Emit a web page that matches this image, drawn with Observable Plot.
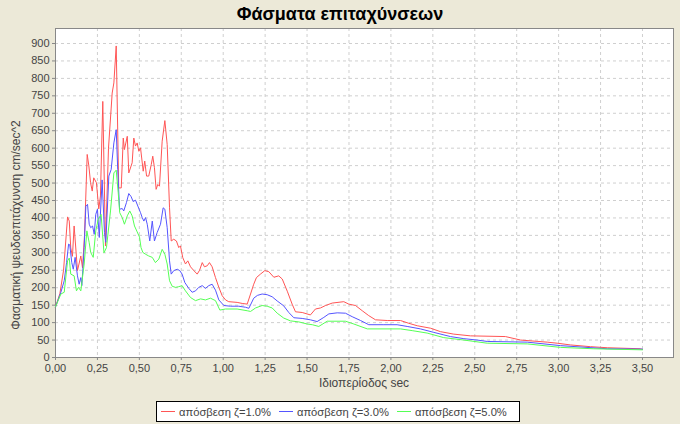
<!DOCTYPE html>
<html><head><meta charset="utf-8">
<script src="https://cdn.jsdelivr.net/npm/d3@7"></script>
<script src="https://cdn.jsdelivr.net/npm/@observablehq/plot@0.6"></script>
<style>
body{margin:0;background:#ECE9D8;}
#wrap{position:relative;width:680px;height:424px;background:#ECE9D8;font-family:"Liberation Sans",Arial,sans-serif;overflow:hidden}
#title{position:absolute;left:0;top:2px;width:680px;text-align:center;font-weight:bold;font-size:18px;line-height:24px;color:#000}
#chart{position:absolute;left:0;top:0}
#xlabel{position:absolute;left:55px;width:618px;top:376px;text-align:center;font-size:12px;color:#444}
#ylabel{position:absolute;left:16px;top:225px;transform:translate(-50%,-50%) rotate(-90deg);white-space:nowrap;font-size:12px;color:#444}
#legend{position:absolute;left:156px;top:401px;width:362px;height:19px;border:1px solid #000;background:#fff;font-size:11.2px;color:#444;display:flex;align-items:center;white-space:nowrap}
.item{display:flex;align-items:center;margin-left:4px;margin-right:4px;white-space:nowrap}
.sw{display:inline-block;width:14px;height:0;border-top:1px solid;margin-right:4px}
</style></head>
<body>
<div id="wrap">
  <div id="title">Φάσματα επιταχύνσεων</div>
  <div id="chart"></div>
  <div id="xlabel">Ιδιοπερίοδος sec</div>
  <div id="ylabel">Φασματική ψευδοεπιτάχυνση cm/sec^2</div>
  <div id="legend"></div>
</div>
<script>
// Series names and colours
const seriesNames = ["απόσβεση ζ=1.0%", "απόσβεση ζ=3.0%", "απόσβεση ζ=5.0%"];
const seriesColors = ["#FF5555", "#5555FF", "#55FF55"];

// ζ = 1.0 %
const T1 = [0,0.026,0.048,0.072,0.082,0.091,0.101,0.111,0.131,0.151,0.161,0.173,0.189,0.199,0.209,0.219,0.228,0.244,0.258,0.268,0.282,0.298,0.316,0.332,0.338,0.348,0.362,0.377,0.392,0.404,0.411,0.428,0.437,0.457,0.467,0.477,0.487,0.497,0.507,0.523,0.532,0.543,0.556,0.571,0.580,0.590,0.600,0.610,0.620,0.636,0.652,0.666,0.680,0.690,0.705,0.721,0.735,0.745,0.759,0.775,0.789,0.805,0.825,0.845,0.859,0.875,0.888,0.905,0.918,0.934,0.954,0.974,0.994,1.014,1.033,1.083,1.113,1.143,1.163,1.182,1.198,1.222,1.248,1.272,1.302,1.331,1.352,1.382,1.411,1.431,1.471,1.520,1.550,1.580,1.610,1.650,1.719,1.749,1.789,1.829,1.868,1.908,1.978,2.057,2.107,2.157,2.236,2.296,2.375,2.475,2.683,2.773,2.932,2.991,3.071,3.190,3.290,3.489,3.500];
const A1 = [145,183,250,403,391,314,290,377,249,291,257,350,582,549,501,477,515,501,426,463,734,320,600,715,758,787,893,486,486,629,596,634,529,558,629,606,615,591,601,534,563,520,520,553,577,544,482,496,491,620,679,610,429,334,339,334,315,320,286,268,277,260,249,239,250,272,260,263,272,260,229,201,177,165,160,158,155,153,182,210,229,239,249,246,230,234,225,190,153,131,129,122,139,142,149,156,160,153,149,134,120,108,106,106,98,91,84,74,67,62,60,50,44,41,36,31,28,25,23];

// ζ = 3.0 %
const T3 = [0,0.032,0.052,0.066,0.078,0.085,0.097,0.106,0.117,0.131,0.141,0.151,0.157,0.171,0.181,0.191,0.201,0.210,0.221,0.231,0.240,0.250,0.261,0.278,0.292,0.300,0.318,0.332,0.348,0.362,0.371,0.382,0.398,0.407,0.423,0.437,0.451,0.463,0.477,0.491,0.507,0.517,0.527,0.537,0.547,0.562,0.577,0.590,0.606,0.626,0.642,0.652,0.666,0.680,0.690,0.705,0.726,0.741,0.755,0.771,0.795,0.815,0.835,0.854,0.875,0.894,0.914,0.934,0.954,0.974,1.004,1.043,1.093,1.133,1.153,1.182,1.204,1.232,1.262,1.292,1.322,1.361,1.391,1.421,1.471,1.520,1.560,1.600,1.630,1.680,1.729,1.769,1.819,1.868,1.958,2.037,2.097,2.176,2.256,2.355,2.435,2.514,2.574,2.813,3.011,3.290,3.500];
const A3 = [145,187,220,272,325,323,272,253,287,234,210,229,206,315,434,439,382,372,377,353,410,425,344,509,358,330,520,539,615,653,539,425,427,420,444,470,461,447,451,434,415,401,391,401,382,334,391,334,358,382,429,425,372,277,239,249,253,249,239,215,198,187,191,201,206,198,206,210,193,165,149,147,147,144,141,170,178,182,180,174,162,148,129,114,112,108,103,115,125,128,127,117,106,94,94,94,89,82,72,60,54,50,46,44,34,25,24];

// ζ = 5.0 %
const T5 = [0,0.032,0.052,0.072,0.082,0.091,0.111,0.125,0.137,0.151,0.171,0.187,0.201,0.210,0.225,0.240,0.255,0.272,0.289,0.304,0.328,0.348,0.362,0.374,0.383,0.398,0.411,0.428,0.443,0.457,0.471,0.487,0.501,0.510,0.521,0.537,0.556,0.577,0.596,0.616,0.636,0.652,0.666,0.680,0.696,0.716,0.735,0.755,0.775,0.805,0.835,0.865,0.894,0.924,0.954,0.980,1.014,1.083,1.143,1.163,1.193,1.232,1.262,1.292,1.322,1.361,1.401,1.451,1.501,1.531,1.570,1.620,1.729,1.779,1.859,2.057,2.127,2.216,2.315,2.435,2.574,2.813,3.011,3.210,3.500];
const A5 = [145,182,187,277,285,239,234,191,201,191,268,363,329,301,287,363,396,410,300,315,420,529,537,472,415,401,382,406,420,406,377,360,345,315,301,296,291,287,272,282,310,296,268,220,204,201,203,206,191,172,163,168,165,170,163,136,139,139,134,132,142,149,147,142,127,113,105,102,96,94,89,104,104,96,82,82,77,70,57,50,41,39,29,25,22];

// Axis ticks
const xTicks = [0,0.25,0.5,0.75,1,1.25,1.5,1.75,2,2.25,2.5,2.75,3,3.25,3.5];
const yTicks = [0,50,100,150,200,250,300,350,400,450,500,550,600,650,700,750,800,850,900];
const xDomain = [0, 3.685];
const yDomain = [0, 943];

const Ts = [T1, T3, T5];
const As = [A1, A3, A5];
const rows = [];
seriesNames.forEach((name, i) => {
  Ts[i].forEach((t, j) => rows.push({series: name, T: t, A: As[i][j]}));
});

const fmtX = d => d.toFixed(2).replace(".", ",");

const chart = Plot.plot({
  width: 680,
  height: 395,
  marginLeft: 55,
  marginRight: 7,
  marginTop: 28,
  marginBottom: 38,
  style: {background: "transparent", fontFamily: "Liberation Sans, Arial, sans-serif", fontSize: "11px", color: "#444"},
  x: {domain: xDomain},
  y: {domain: yDomain},
  color: {domain: seriesNames, range: seriesColors},
  marks: [
    Plot.frame({fill: "white", stroke: "none"}),
    Plot.gridX(xTicks, {stroke: "#cfcfcf", strokeOpacity: 1, strokeDasharray: "3,3"}),
    Plot.gridY(yTicks, {stroke: "#cfcfcf", strokeOpacity: 1, strokeDasharray: "3,3"}),
    Plot.frame({stroke: "#888", strokeWidth: 1}),
    Plot.line(rows, {x: "T", y: "A", z: "series", stroke: "series", strokeWidth: 1, curve: "linear"}),
    Plot.axisX(xTicks, {tickFormat: fmtX, tickSize: 3, tickPadding: 4, stroke: "#888", fill: "#444", fontSize: 11, label: null}),
    Plot.axisY(yTicks, {tickFormat: d => String(d), tickSize: 3, tickPadding: 3, stroke: "#888", fill: "#444", fontSize: 11, label: null})
  ]
});
document.getElementById("chart").appendChild(chart);

const leg = document.getElementById("legend");
seriesNames.forEach((name, i) => {
  const it = document.createElement("div");
  it.className = "item";
  const sw = document.createElement("span");
  sw.className = "sw";
  sw.style.borderTopColor = seriesColors[i];
  it.appendChild(sw);
  const tx = document.createElement("span");
  tx.textContent = name;
  it.appendChild(tx);
  leg.appendChild(it);
});
</script>
</body></html>
